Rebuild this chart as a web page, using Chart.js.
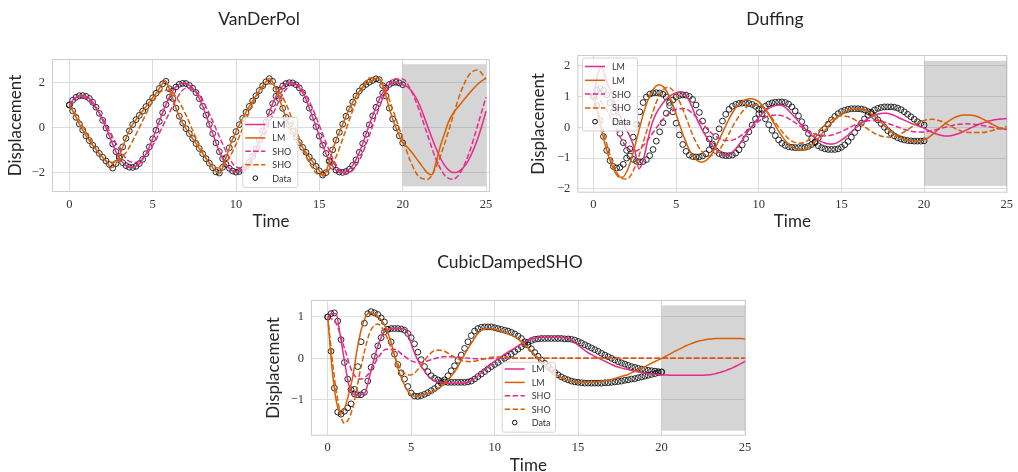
<!DOCTYPE html>
<html>
<head>
<meta charset="utf-8">
<script src="https://cdn.jsdelivr.net/npm/chart.js@4.4.0/dist/chart.umd.min.js"></script>
<style>
html, body { margin: 0; padding: 0; background: #fff; overflow: hidden; }
body { width: 1018px; height: 472px; position: relative; }
canvas { position: absolute; }
</style>
</head>
<body>
<canvas id="vdp" width="500" height="240" style="left:0;top:0"></canvas>
<canvas id="duffing" width="498" height="240" style="left:520px;top:0"></canvas>
<canvas id="cubic" width="510" height="240" style="left:250px;top:245px"></canvas>
<script>
// shared axis ticks / labels
const xTicks = [0, 5, 10, 15, 20, 25];
const legendLabels = ['LM', 'LM', 'SHO', 'SHO', 'Data'];
const shadeTime = [20, 25];

// sampling steps of the arrays below (time units)
const lmStep = 0.25;
const shoStep = 0.5;

// ---- VanDerPol ----
const vdpTicksY = [-2, 0, 2];
const vdpShadeY = [-2.61, 2.81];
const vdpDataStep = 0.2;
const vdpDataA = [
  1.0, 1.21, 1.34, 1.41, 1.42, 1.38, 1.29, 1.12, 0.9, 0.63,
  0.32, -0.02, -0.37, -0.73, -1.07, -1.35, -1.56, -1.69, -1.76, -1.77,
  -1.72, -1.6, -1.41, -1.16, -0.86, -0.5, -0.12, 0.27, 0.66, 1.02,
  1.35, 1.62, 1.8, 1.92, 1.96, 1.95, 1.87, 1.74, 1.55, 1.28,
  0.94, 0.55, 0.14, -0.27, -0.68, -1.07, -1.39, -1.63, -1.81, -1.93,
  -1.98, -1.95, -1.87, -1.73, -1.54, -1.28, -0.95, -0.56, -0.15, 0.26,
  0.68, 1.06, 1.39, 1.65, 1.84, 1.95, 1.99, 1.98, 1.9, 1.76,
  1.54, 1.24, 0.86, 0.45, 0.04, -0.38, -0.78, -1.15, -1.47, -1.72,
  -1.89, -1.97, -1.99, -1.95, -1.85, -1.68, -1.43, -1.1, -0.71, -0.3,
  0.12, 0.52, 0.9, 1.24, 1.53, 1.76, 1.91, 1.99, 2.01, 1.98, 1.9
];
const vdpDataB = [
  1.0, 0.74, 0.45, 0.16, -0.11, -0.37, -0.58, -0.78, -0.97, -1.15,
  -1.32, -1.48, -1.64, -1.8, -1.6, -1.28, -0.86, -0.48, -0.15, 0.13,
  0.35, 0.54, 0.73, 0.93, 1.12, 1.32, 1.52, 1.73, 1.94, 2.05,
  1.72, 1.29, 0.86, 0.5, 0.2, -0.05, -0.27, -0.49, -0.71, -0.93,
  -1.16, -1.38, -1.58, -1.78, -1.97, -2.02, -1.76, -1.34, -0.9, -0.52,
  -0.18, 0.13, 0.41, 0.68, 0.94, 1.18, 1.41, 1.64, 1.85, 2.03,
  2.17, 2.05, 1.7, 1.28, 0.85, 0.45, 0.11, -0.17, -0.42, -0.66,
  -0.88, -1.1, -1.31, -1.51, -1.72, -1.92, -2.11, -2.0, -1.5, -0.99,
  -0.56, -0.21, 0.15, 0.5, 0.83, 1.13, 1.4, 1.62, 1.79, 1.91,
  2.01, 2.09, 2.16, 2.12, 1.86, 1.4, 0.86, 0.38, -0.01, -0.37, -0.68
];
const vdpLmPink = [
  1.0, 1.25, 1.38, 1.42, 1.38, 1.26, 1.02, 0.70, 0.32, -0.1, -0.55, -1.0,
  -1.35, -1.6, -1.74, -1.77, -1.72, -1.57, -1.3, -0.95, -0.5, -0.02, 0.47, 0.94,
  1.35, 1.67, 1.87, 1.96, 1.95, 1.85, 1.66, 1.36, 0.94, 0.45, -0.06, -0.58,
  -1.07, -1.46, -1.73, -1.91, -1.98, -1.94, -1.82, -1.6, -1.28, -0.86, -0.36, 0.16,
  0.68, 1.15, 1.53, 1.8, 1.95, 2.0, 1.95, 1.8, 1.54, 1.16, 0.66, 0.14,
  -0.38, -0.88, -1.33, -1.67, -1.89, -1.98, -1.98, -1.88, -1.68, -1.36, -0.92, -0.4,
  0.12, 0.62, 1.08, 1.47, 1.76, 1.93, 2.01, 1.99, 1.9,
  1.82, 1.65, 1.38, 1.02, 0.55, 0.05, -0.45, -0.92, -1.33, -1.66, -1.88,
  -1.99, -1.98, -1.88, -1.68, -1.38, -0.98, -0.5, 0.08, 0.72
];
const vdpLmOrange = [
  1.0, 0.67, 0.31, -0.05, -0.37, -0.63, -0.88, -1.11, -1.32, -1.52, -1.78, -1.68,
  -1.28, -0.76, -0.3, 0.07, 0.35, 0.59, 0.83, 1.07, 1.32, 1.57, 1.84, 2.08,
  1.72, 1.18, 0.66, 0.26, -0.05, -0.33, -0.6, -0.88, -1.16, -1.43, -1.68, -1.92,
  -2.05, -1.68, -1.12, -0.6, -0.18, 0.2, 0.55, 0.88, 1.18, 1.47, 1.75, 1.99,
  2.17, 1.95, 1.5, 0.95, 0.45, 0.03, -0.3, -0.6, -0.88, -1.15, -1.41, -1.67,
  -1.92, -2.16, -1.75, -1.1, -0.56, -0.12, 0.33, 0.75, 1.13, 1.46, 1.71, 1.89,
  2.01, 2.11, 2.2, 1.95, 1.4, 0.72, 0.17, -0.28, -0.68,
  -0.85, -1.05, -1.3, -1.55, -1.8, -2.02, -2.1, -1.55, -0.85, -0.3, 0.25,
  0.6, 0.85, 1.07, 1.3, 1.52, 1.73, 1.92, 2.07, 2.18
];
const vdpShoPink = [
  1.0, 1.35, 1.3, 0.95, 0.4, -0.3, -0.95, -1.45, -1.55, -1.3, -0.8, -0.1, 0.65,
  1.35, 1.75, 1.65, 1.2, 0.45, -0.4, -1.2, -1.75, -1.8, -1.4, -0.7, 0.2, 1.05,
  1.7, 1.95, 1.65, 1.0, 0.1, -0.85, -1.65, -2.05, -1.9, -1.3, -0.35, 0.7, 1.6,
  2.15, 2.15, 1.65, 0.75, -0.35, -1.4, -2.1, -2.3, -1.95, -1.1, 0.1, 1.35
];
const vdpShoOrange = [
  1.0, 0.45, -0.2, -0.85, -1.35, -1.55, -1.45, -1.0, -0.3, 0.45, 1.15, 1.6, 1.65,
  1.25, 0.55, -0.3, -1.1, -1.65, -1.8, -1.45, -0.75, 0.15, 1.05, 1.7, 1.95, 1.7,
  1.05, 0.1, -0.9, -1.7, -2.1, -1.95, -1.3, -0.3, 0.75, 1.65, 2.2, 2.2, 1.6,
  0.6, -0.5, -1.55, -2.2, -2.3, -1.75, -0.75, 0.45, 1.6, 2.35, 2.55, 2.15
];

// ---- Duffing ----
const dufTicksY = [-2, -1, 0, 1, 2];
const dufShadeY = [-1.9, 2.15];
const dufDataStep = 0.2;
const dufDataA = [
  1.0, 1.2, 1.25, 1.2, 1.05, 0.8, 0.5, 0.15, -0.2, -0.5,
  -0.75, -0.93, -1.04, -1.1, -1.12, -1.11, -1.05, -0.92, -0.72, -0.45,
  -0.15, 0.15, 0.45, 0.7, 0.88, 0.98, 1.03, 1.05, 1.04, 1.0,
  0.9, 0.72, 0.48, 0.2, -0.1, -0.38, -0.6, -0.76, -0.85, -0.9,
  -0.92, -0.92, -0.9, -0.84, -0.73, -0.57, -0.37, -0.15, 0.07, 0.27,
  0.44, 0.58, 0.68, 0.75, 0.79, 0.81, 0.82, 0.82, 0.8, 0.75,
  0.66, 0.53, 0.37, 0.18, -0.02, -0.2, -0.37, -0.5, -0.6, -0.66,
  -0.7, -0.72, -0.72, -0.72, -0.7, -0.65, -0.57, -0.46, -0.32, -0.17,
  -0.02, 0.13, 0.27, 0.39, 0.49, 0.56, 0.61, 0.64, 0.66, 0.66,
  0.66, 0.65, 0.62, 0.57, 0.5, 0.42, 0.34, 0.26, 0.18, 0.12, 0.07
];
const dufDataB = [
  1.0, 0.7, 0.22, -0.3, -0.75, -1.08, -1.27, -1.32, -1.3, -1.2,
  -1.0, -0.7, -0.32, 0.1, 0.5, 0.8, 0.98, 1.07, 1.11, 1.12,
  1.11, 1.07, 0.98, 0.8, 0.5, 0.13, -0.25, -0.56, -0.78, -0.9,
  -0.95, -0.96, -0.96, -0.93, -0.86, -0.73, -0.54, -0.3, -0.05, 0.2,
  0.42, 0.58, 0.68, 0.74, 0.77, 0.78, 0.78, 0.77, 0.74, 0.68,
  0.58, 0.44, 0.27, 0.08, -0.1, -0.27, -0.41, -0.52, -0.59, -0.63,
  -0.65, -0.66, -0.66, -0.66, -0.65, -0.62, -0.56, -0.47, -0.35, -0.2,
  -0.05, 0.1, 0.24, 0.35, 0.44, 0.51, 0.55, 0.58, 0.6, 0.6,
  0.6, 0.59, 0.56, 0.51, 0.44, 0.35, 0.24, 0.12, 0.0, -0.11,
  -0.2, -0.28, -0.34, -0.38, -0.41, -0.43, -0.44, -0.45, -0.45, -0.45, -0.44
];
const dufLmPink = [
  1.0, 1.7, 1.95, 1.55, 1.2, 0.85, 0.5, 0.2, -0.08, -0.35, -0.75, -1.35,
  -1.08, -0.5, 0.05, 0.4, 0.63, 0.82, 0.96, 1.06, 1.12, 1.15, 1.08, 0.9,
  0.6, 0.27, 0.0, -0.25, -0.45, -0.62, -0.76, -0.86, -0.92, -0.88, -0.76, -0.6,
  -0.42, -0.22, -0.03, 0.15, 0.32, 0.46, 0.57, 0.65, 0.7, 0.72, 0.68, 0.57,
  0.43, 0.28, 0.13, -0.02, -0.16, -0.28, -0.38, -0.46, -0.51, -0.54, -0.54, -0.5,
  -0.42, -0.32, -0.2, -0.08, 0.04, 0.15, 0.25, 0.33, 0.39, 0.43, 0.45, 0.45,
  0.42, 0.37, 0.3, 0.24, 0.18, 0.12, 0.07, 0.02, -0.03, -0.1, -0.17, -0.22,
  -0.26, -0.28, -0.28, -0.26, -0.22, -0.17, -0.1, -0.04, 0.02, 0.08, 0.13, 0.17,
  0.21, 0.24, 0.26, 0.27, 0.28
];
const dufLmOrange = [
  1.0, 0.45, -0.12, -0.65, -1.08, -1.4, -1.6, -1.62, -1.45, -1.1, -0.62, -0.1,
  0.4, 0.82, 1.12, 1.32, 1.38, 1.3, 1.1, 0.8, 0.42, 0.02, -0.36, -0.68,
  -0.92, -1.07, -1.13, -1.1, -0.98, -0.78, -0.52, -0.24, 0.05, 0.32, 0.55, 0.72,
  0.84, 0.9, 0.92, 0.9, 0.82, 0.68, 0.5, 0.28, 0.05, -0.17, -0.36, -0.52,
  -0.63, -0.7, -0.73, -0.72, -0.66, -0.56, -0.42, -0.26, -0.1, 0.06, 0.2, 0.33,
  0.43, 0.51, 0.56, 0.59, 0.6, 0.58, 0.53, 0.45, 0.35, 0.23, 0.1, -0.03,
  -0.14, -0.24, -0.32, -0.38, -0.42, -0.44, -0.45, -0.44, -0.41, -0.34, -0.24, -0.12,
  0.0, 0.11, 0.21, 0.29, 0.35, 0.39, 0.4, 0.4, 0.38, 0.34, 0.28, 0.21,
  0.13, 0.06, -0.01, -0.05, -0.06
];
const dufShoPink = [
  1.0, 0.8, 0.35, -0.2, -0.65, -0.78, -0.6, -0.25, 0.12, 0.42, 0.58, 0.6, 0.45,
  0.17, -0.12, -0.33, -0.43, -0.4, -0.24, -0.02, 0.2, 0.35, 0.4, 0.36, 0.22, 0.04,
  -0.13, -0.24, -0.28, -0.24, -0.14, -0.01, 0.12, 0.2, 0.22, 0.18, 0.09, -0.01, -0.1,
  -0.15, -0.15, -0.11, -0.04, 0.03, 0.09, 0.11, 0.1, 0.06, 0.01, -0.04, -0.07
];
const dufShoOrange = [
  1.0, 0.05, -0.9, -1.55, -1.68, -1.3, -0.5, 0.35, 1.05, 1.3, 1.05, 0.45, -0.25,
  -0.75, -0.93, -0.8, -0.4, 0.1, 0.5, 0.72, 0.72, 0.5, 0.15, -0.2, -0.45, -0.52,
  -0.42, -0.18, 0.08, 0.28, 0.37, 0.33, 0.18, -0.02, -0.2, -0.3, -0.32, -0.24, -0.08,
  0.1, 0.22, 0.26, 0.2, 0.07, -0.07, -0.16, -0.17, -0.17, -0.12, -0.05, 0.02
];

// ---- CubicDampedSHO ----
const cubTicksY = [-1, 0, 1];
const cubShadeY = [-1.75, 1.28];
const cubDataStep = 0.2;
const cubDataA = [
  1.0, 1.08, 1.1, 0.9, 0.45, -0.1, -0.5, -0.76, -0.86, -0.88,
  -0.88, -0.82, -0.55, -0.22, 0.05, 0.3, 0.5, 0.64, 0.7, 0.72,
  0.72, 0.72, 0.71, 0.68, 0.6, 0.5, 0.35, 0.15, -0.03, -0.2,
  -0.32, -0.42, -0.48, -0.52, -0.55, -0.57, -0.58, -0.58, -0.58, -0.58,
  -0.58, -0.58, -0.57, -0.55, -0.5, -0.44, -0.38, -0.32, -0.26, -0.2,
  -0.15, -0.1, -0.05, 0.0, 0.05, 0.1, 0.16, 0.22, 0.28, 0.34,
  0.39, 0.43, 0.46, 0.47, 0.48, 0.48, 0.48, 0.48, 0.48, 0.48,
  0.48, 0.47, 0.47, 0.46, 0.44, 0.41, 0.37, 0.33, 0.29, 0.25,
  0.21, 0.17, 0.12, 0.08, 0.04, 0.0, -0.04, -0.08, -0.11, -0.14,
  -0.17, -0.2, -0.22, -0.24, -0.26, -0.27, -0.29, -0.3, -0.31, -0.32, -0.33
];
const cubDataB = [
  1.0, 0.17, -0.72, -1.3, -1.35, -1.28, -1.2, -1.1, -0.75, -0.2,
  0.4, 0.85, 1.08, 1.13, 1.1, 1.06, 0.98, 0.88, 0.7, 0.4,
  0.1, -0.15, -0.35, -0.5, -0.68, -0.84, -0.91, -0.92, -0.9, -0.87,
  -0.83, -0.78, -0.73, -0.67, -0.6, -0.52, -0.42, -0.3, -0.18, -0.05,
  0.08, 0.24, 0.4, 0.55, 0.66, 0.72, 0.75, 0.76, 0.76, 0.76,
  0.74, 0.72, 0.7, 0.68, 0.66, 0.63, 0.59, 0.54, 0.48, 0.4,
  0.32, 0.23, 0.14, 0.05, -0.04, -0.12, -0.2, -0.27, -0.34, -0.4,
  -0.45, -0.49, -0.52, -0.55, -0.57, -0.58, -0.59, -0.6, -0.6, -0.6,
  -0.6, -0.6, -0.6, -0.59, -0.59, -0.58, -0.57, -0.56, -0.55, -0.53,
  -0.52, -0.5, -0.49, -0.47, -0.45, -0.43, -0.41, -0.39, -0.37, -0.35, -0.33
];
const cubLmPink = [
  1.0, 1.09, 1.08, 0.55, -0.05, -0.62, -0.86, -0.88, -0.88, -0.82, -0.45, -0.06,
  0.3, 0.55, 0.68, 0.71, 0.72, 0.72, 0.72, 0.64, 0.36, 0.08, -0.12, -0.28,
  -0.42, -0.51, -0.56, -0.58, -0.6, -0.6, -0.6, -0.6, -0.6, -0.59, -0.56, -0.5,
  -0.42, -0.33, -0.24, -0.16, -0.07, 0.0, 0.07, 0.14, 0.2, 0.26, 0.32, 0.38,
  0.44, 0.48, 0.5, 0.51, 0.51, 0.51, 0.51, 0.51, 0.51, 0.5, 0.47, 0.4,
  0.32, 0.24, 0.16, 0.1, 0.05, 0.0, -0.05, -0.1, -0.15, -0.19, -0.22, -0.25,
  -0.27, -0.3, -0.32, -0.34, -0.36, -0.37, -0.38, -0.39, -0.4, -0.4, -0.41, -0.41,
  -0.41, -0.41, -0.41, -0.41, -0.41, -0.41, -0.41, -0.4, -0.39, -0.37, -0.34, -0.31,
  -0.27, -0.23, -0.18, -0.13, -0.07
];
const cubLmOrange = [
  1.0, -0.2, -1.0, -1.33, -1.22, -0.88, -0.45, 0.18, 0.68, 0.98, 1.1, 1.08,
  1.01, 0.91, 0.72, 0.45, 0.08, -0.3, -0.55, -0.76, -0.88, -0.92, -0.9, -0.88,
  -0.85, -0.81, -0.76, -0.69, -0.61, -0.5, -0.38, -0.24, -0.05, 0.13, 0.3, 0.46,
  0.6, 0.68, 0.72, 0.72, 0.7, 0.68, 0.64, 0.6, 0.56, 0.51, 0.44, 0.35,
  0.25, 0.15, 0.05, -0.05, -0.15, -0.24, -0.33, -0.41, -0.47, -0.52, -0.55, -0.57,
  -0.58, -0.58, -0.58, -0.58, -0.57, -0.56, -0.55, -0.53, -0.51, -0.48, -0.45, -0.42,
  -0.39, -0.34, -0.3, -0.25, -0.2, -0.15, -0.1, -0.05, 0.0, 0.05, 0.1, 0.16,
  0.21, 0.26, 0.31, 0.35, 0.39, 0.42, 0.44, 0.46, 0.47, 0.48, 0.48, 0.48,
  0.48, 0.48, 0.48, 0.48, 0.47
];
const cubShoPink = [
  1.0, 0.85, 0.25, -0.35, -0.5, -0.35, 0.0, 0.22, 0.22, 0.08, -0.06, -0.1, -0.06,
  0.0, 0.04, 0.04, 0.02, 0.0, -0.01, -0.01, 0.0, 0.0, 0.0, 0.0, 0.0, 0.0,
  0.0, 0.0, 0.0, 0.0, 0.0, 0.0, 0.0, 0.0, 0.0, 0.0, 0.0, 0.0, 0.0,
  0.0, 0.0, 0.0, 0.0, 0.0, 0.0, 0.0, 0.0, 0.0, 0.0, 0.0, 0.0
];
const cubShoOrange = [
  1.0, -0.75, -1.57, -1.2, -0.2, 0.6, 0.83, 0.55, 0.05, -0.33, -0.4, -0.22, 0.05,
  0.2, 0.17, 0.05, -0.05, -0.08, -0.05, 0.0, 0.03, 0.03, 0.01, 0.0, 0.0, 0.0,
  0.0, 0.0, 0.0, 0.0, 0.0, 0.0, 0.0, 0.0, 0.0, 0.0, 0.0, 0.0, 0.0,
  0.0, 0.0, 0.0, 0.0, 0.0, 0.0, 0.0, 0.0, 0.0, 0.0, 0.0, 0.0
];

// ---- styling ----
const pink = '#e7298a';
const orange = '#d95f02';
const dash = [5.5, 2.4];
const gridColor = '#dcdcdc';
const sans = 'Lato, "Open Sans", sans-serif';
const serif = '"Liberation Serif", "DejaVu Serif", serif';

function points(values, step) {
  return values.map((v, i) => ({ x: i * step, y: v }));
}

function fmt(v) {
  return v < 0 ? '\u2212' + Math.abs(v) : String(v);
}

const shadePlugin = {
  id: 'shade',
  beforeDatasetsDraw(chart, args, o) {
    const { ctx, scales: { x, y }, chartArea } = chart;
    const l = x.getPixelForValue(o.x[0]);
    const r = Math.min(x.getPixelForValue(o.x[1]), chartArea.right);
    const t = y.getPixelForValue(o.y[1]);
    const b = y.getPixelForValue(o.y[0]);
    ctx.save();
    ctx.fillStyle = 'rgba(128,128,128,0.33)';
    ctx.fillRect(l, t, r - l, b - t);
    ctx.restore();
  }
};

const framePlugin = {
  id: 'frame',
  beforeDatasetsDraw(chart) {
    const { ctx, chartArea: a } = chart;
    ctx.save();
    ctx.strokeStyle = '#cccccc';
    ctx.lineWidth = 1;
    ctx.strokeRect(a.left + 0.5, a.top + 0.5, a.width - 1, a.height - 1);
    ctx.restore();
  }
};

const legendPlugin = {
  id: 'boxLegend',
  afterDatasetsDraw(chart, args, o) {
    const { ctx, chartArea } = chart;
    const x0 = chartArea.left + o.dx, y0 = chartArea.top + o.dy;
    ctx.save();
    ctx.beginPath();
    ctx.roundRect(x0 + 0.5, y0 + 0.5, o.w, o.h, 2);
    ctx.fillStyle = 'rgba(255,255,255,0.8)';
    ctx.fill();
    ctx.strokeStyle = '#d4d4d4';
    ctx.lineWidth = 1;
    ctx.stroke();
    ctx.font = '9px ' + sans;
    ctx.textBaseline = 'middle';
    chart.data.datasets.forEach((ds, i) => {
      const cy = y0 + o.firstRow + i * o.rowGap;
      ctx.beginPath();
      if (ds.showLine) {
        ctx.setLineDash(ds.borderDash || []);
        ctx.strokeStyle = ds.borderColor;
        ctx.lineWidth = ds.borderWidth;
        ctx.moveTo(x0 + 3, cy);
        ctx.lineTo(x0 + 23, cy);
        ctx.stroke();
        ctx.setLineDash([]);
      } else {
        ctx.strokeStyle = '#000';
        ctx.lineWidth = 1;
        ctx.arc(x0 + 13, cy, 2.3, 0, Math.PI * 2);
        ctx.stroke();
      }
      ctx.fillStyle = '#333';
      ctx.fillText(legendLabels[i], x0 + 30, cy + 0.5);
    });
    ctx.restore();
  }
};

const titlePlugin = {
  id: 'plotTitle',
  afterDraw(chart, args, o) {
    const { ctx } = chart;
    ctx.save();
    ctx.font = '17.5px ' + sans;
    ctx.fillStyle = '#262626';
    ctx.textAlign = 'center';
    ctx.textBaseline = 'middle';
    ctx.fillText(o.text, o.x, o.y);
    ctx.restore();
  }
};

function lineSet(label, values, step, color, borderDash, order) {
  return {
    label: label,
    data: points(values, step),
    showLine: true,
    borderColor: color,
    borderWidth: 1.5,
    borderDash: borderDash,
    pointRadius: 0,
    fill: false,
    cubicInterpolationMode: 'monotone',
    order: order
  };
}

function createChart(id, c) {
  return new Chart(document.getElementById(id), {
    type: 'scatter',
    data: {
      datasets: [
        lineSet('LM', c.lmPink, lmStep, pink, [], 4),
        lineSet('LM', c.lmOrange, lmStep, orange, [], 3),
        lineSet('SHO', c.shoPink, shoStep, pink, dash, 2),
        lineSet('SHO', c.shoOrange, shoStep, orange, dash, 1),
        {
          label: 'Data',
          data: points(c.dataA, c.dataStep).concat(points(c.dataB, c.dataStep)),
          showLine: false,
          pointRadius: 2.9,
          pointBorderWidth: 0.9,
          pointBorderColor: '#111',
          pointBackgroundColor: 'rgba(0,0,0,0)',
          order: 5
        }
      ]
    },
    options: {
      responsive: false,
      animation: false,
      devicePixelRatio: 1,
      layout: { autoPadding: false, padding: { left: 0, top: c.top, right: c.right, bottom: 0 } },
      scales: {
        x: {
          type: 'linear', min: c.xMin, max: c.xMax,
          afterBuildTicks: s => { s.ticks = xTicks.map(v => ({ value: v })); },
          afterFit: s => { s.height = c.xh; },
          grid: { color: gridColor, lineWidth: 1, drawTicks: false },
          border: { display: false },
          ticks: { padding: 5, color: '#333', font: { family: serif, size: 12.5 }, callback: fmt, maxRotation: 0 },
          title: { display: true, text: 'Time', color: '#262626', font: { family: sans, size: 17, lineHeight: 1 }, padding: { top: 0, bottom: c.xtPad } }
        },
        y: {
          type: 'linear', min: c.yMin, max: c.yMax,
          afterBuildTicks: s => { s.ticks = c.ticksY.map(v => ({ value: v })); },
          afterFit: s => { s.width = c.yw; },
          grid: { color: gridColor, lineWidth: 1, drawTicks: false },
          border: { display: false },
          ticks: { padding: 7, color: '#333', font: { family: serif, size: 12.5 }, callback: fmt },
          title: { display: true, text: 'Displacement', color: '#262626', font: { family: sans, size: 17, lineHeight: 1 }, padding: { top: c.ytPad, bottom: 0 } }
        }
      },
      plugins: {
        legend: { display: false },
        tooltip: { enabled: false },
        shade: { x: shadeTime, y: c.shadeY },
        boxLegend: c.legend,
        plotTitle: c.title
      }
    },
    plugins: [framePlugin, shadePlugin, legendPlugin, titlePlugin]
  });
}

createChart('vdp', {
  lmPink: vdpLmPink, lmOrange: vdpLmOrange, shoPink: vdpShoPink, shoOrange: vdpShoOrange,
  dataA: vdpDataA, dataB: vdpDataB, dataStep: vdpDataStep,
  ticksY: vdpTicksY, shadeY: vdpShadeY,
  xMin: -1.04, xMax: 25.24, yMin: -2.86, yMax: 3.04,
  top: 59, right: 10, xh: 48, yw: 52, xtPad: 9.5, ytPad: 7.5,
  legend: { dx: 190.3, dy: 58, w: 55, h: 70, firstRow: 7.5, rowGap: 13.4 },
  title: { text: 'VanDerPol', x: 259, y: 19 }
});

createChart('duffing', {
  lmPink: dufLmPink, lmOrange: dufLmOrange, shoPink: dufShoPink, shoOrange: dufShoOrange,
  dataA: dufDataA, dataB: dufDataB, dataStep: dufDataStep,
  ticksY: dufTicksY, shadeY: dufShadeY,
  xMin: -0.98, xMax: 25.04, yMin: -2.12, yMax: 2.34,
  top: 55, right: 6.3, xh: 47.3, yw: 57.3, xtPad: 9.5, ytPad: 10.5,
  legend: { dx: 4.7, dy: 2.5, w: 55, h: 73, firstRow: 9, rowGap: 13.8 },
  title: { text: 'Duffing', x: 255, y: 19 }
});

createChart('cubic', {
  lmPink: cubLmPink, lmOrange: cubLmOrange, shoPink: cubShoPink, shoOrange: cubShoOrange,
  dataA: cubDataA, dataB: cubDataB, dataStep: cubDataStep,
  ticksY: cubTicksY, shadeY: cubShadeY,
  xMin: -1.0, xMax: 25.04, yMin: -1.87, yMax: 1.41,
  top: 55, right: 14.3, xh: 49.3, yw: 61, xtPad: 11, ytPad: 15.5,
  legend: { dx: 190.7, dy: 61.7, w: 53.3, h: 70, firstRow: 7.3, rowGap: 13.4 },
  title: { text: 'CubicDampedSHO', x: 260, y: 17 }
});
</script>
</body>
</html>
